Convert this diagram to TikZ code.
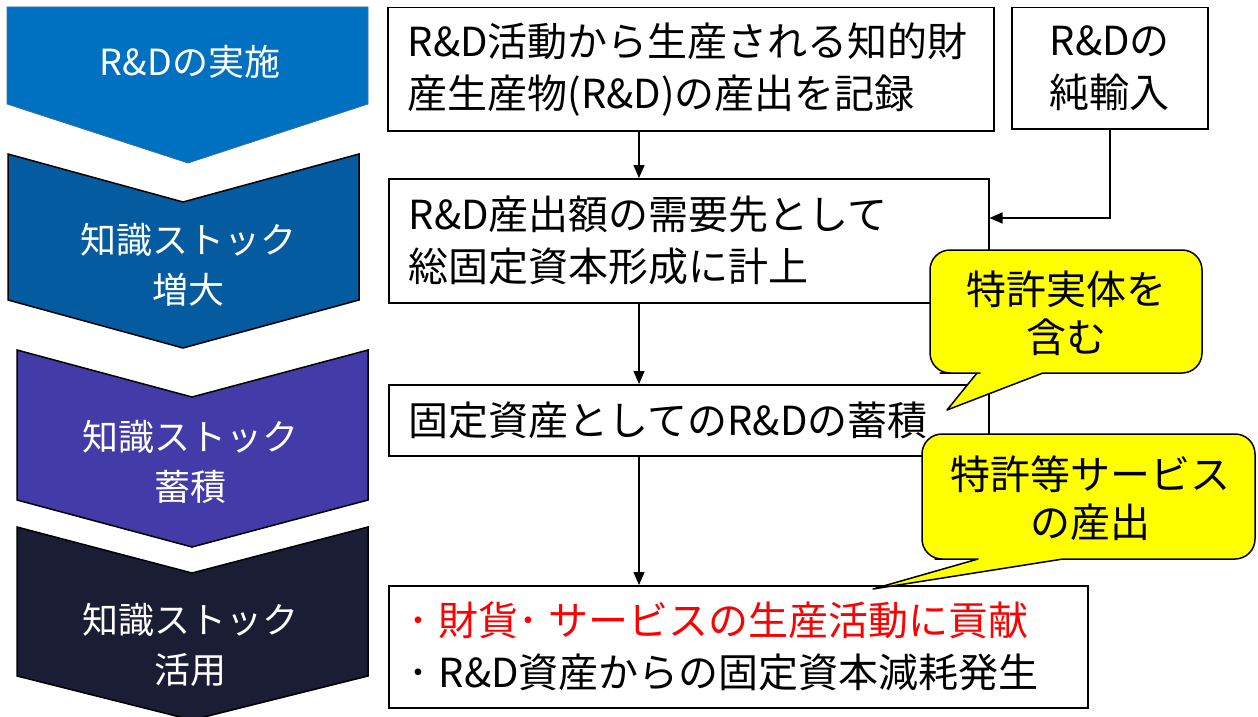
\documentclass[tikz,border=0pt]{standalone}
\usepackage{fontspec}
\setmainfont{Noto Sans CJK JP}
\usetikzlibrary{arrows.meta}
\definecolor{chA}{HTML}{0070C0}
\definecolor{chAline}{HTML}{41719C}
\definecolor{chB}{HTML}{055B9F}
\definecolor{chC}{HTML}{433BA7}
\definecolor{chD}{HTML}{1B1D34}
\definecolor{calloutfill}{HTML}{FFFF00}
\definecolor{redtext}{HTML}{FF0000}
\newcommand{\mydot}{･\hspace{10pt}}
\begin{document}
\begin{tikzpicture}[x=1pt,y=-1pt,
  box/.style={draw=black, line width=1.5pt, fill=white, rectangle, inner xsep=20pt, inner ysep=0pt,
    align=left, font=\fontsize{40}{52}\selectfont, anchor=north west},
  netbox/.style={box, align=center},
  chevshape/.style={line width=1.5pt, draw=black},
  chevtext/.style={text=white, align=center, font=\fontsize{36}{50}\selectfont},
  flow/.style={line width=1.5pt, -{Triangle[length=13pt,width=11pt]}},
  calloutshape/.style={fill=calloutfill, draw=black, line width=1.5pt, line join=round},
  callouttext/.style={align=center, font=\fontsize{40}{48}\selectfont}]
\useasboundingbox (0,0) rectangle (1258,717);

% chevrons
\path[fill=chA, draw=chAline, line width=0.8pt] (7,7) -- (368,7) -- (368,104) -- (188,163) -- (7,104) -- cycle;
\path[chevshape, fill=chB] (8,154) -- (183,202) -- (359,154) -- (359,300) -- (183,348) -- (8,300) -- cycle;
\path[chevshape, fill=chC] (17,350) -- (192,397) -- (368,350) -- (368,500) -- (192,547) -- (17,500) -- cycle;
\path[chevshape, fill=chD] (17,527) -- (192,573) -- (368,527) -- (368,676) -- (192,720) -- (17,676) -- cycle;

\node[chevtext] (t1) at (190,62) {R\&Dの実施};
\node[chevtext] (t2) at (188,265) {知識ストック\\増大};
\node[chevtext] (t3) at (190,462) {知識ストック\\蓄積};
\node[chevtext] (t4) at (190,645) {知識ストック\\活用};

% boxes
\node[box, text width=566pt, minimum height=123pt] (b1) at (387,7)
  {R\&D活動から生産される知的財\\産生産物(R\&D)の産出を記録};
\node[netbox, text width=156pt, minimum height=121pt] (b5) at (1011,7)
  {R\&Dの\\純輸入};
\node[box, text width=560pt, minimum height=124pt] (b2) at (388,178)
  {R\&D産出額の需要先として\\総固定資本形成に計上};
\node[box, text width=560pt, minimum height=71pt] (b3) at (388,384)
  {固定資産としてのR\&Dの蓄積};
\node[box, text width=659pt, minimum height=122pt] (b4) at (388,585)
  {\textcolor{redtext}{\mydot 財貨\mydot サービスの生産活動に貢献}\\\mydot R\&D資産からの固定資本減耗発生};

% connectors
\coordinate (ax) at (639,0);
\coordinate (ny) at (0,218);
\draw[flow] (b1.south -| ax) -- (b2.north -| ax);
\draw[flow] (b2.south -| ax) -- (b3.north -| ax);
\draw[flow] (b3.south -| ax) -- (b4.north -| ax);
\draw[flow] (b5.south) |- (b2.east |- ny);

% callouts
\path[calloutshape] (977,373) [sharp corners] -- (947,410) -- (1043,373) -- (1100,373)
  [rounded corners=20pt] -- (1202,373) -- (1202,250) -- (930,250) -- (930,373) -- (960,373)
  [sharp corners] -- cycle;
\node[callouttext] (k1) at (1066,313) {特許実体を\\含む};

\path[calloutshape] (978,559) [sharp corners] -- (873,589) -- (1063,559) -- (1120,559)
  [rounded corners=20pt] -- (1255,559) -- (1255,434) -- (922,434) -- (922,559) -- (955,559)
  [sharp corners] -- cycle;
\node[callouttext] (k2) at (1090,498) {特許等サービス\\の産出};
\end{tikzpicture}
\end{document}
